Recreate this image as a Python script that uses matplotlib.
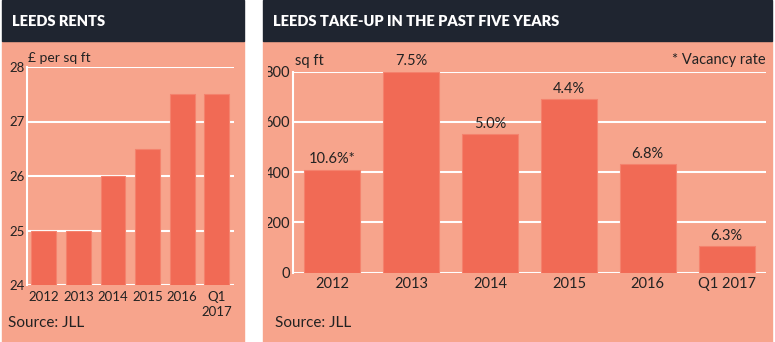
import matplotlib
matplotlib.use("Agg")
import matplotlib.pyplot as plt
from matplotlib.patches import Rectangle

plt.rcParams['font.family'] = ['Lato', 'DejaVu Sans']

W, H = 775, 342

# data
rent_years = ['2012', '2013', '2014', '2015', '2016', 'Q1\n2017']
rents = [25, 25, 26, 26.5, 27.5, 27.5]

takeup_years = ['2012', '2013', '2014', '2015', '2016', 'Q1 2017']
takeup = [410, 800, 550, 690, 432, 106]
vacancy = ['10.6%*', '7.5%', '5.0%', '4.4%', '6.8%', '6.3%']

BG = '#f7a48c'
BAR = '#f16a55'
HEAD = '#1f2530'
INK = '#222222'


def fx(x):
    return x / W


def fy(y):
    return 1 - y / H


def px_axes(l, t, r, b):
    return [fx(l), fy(b), (r - l) / W, (b - t) / H]


fig = plt.figure(figsize=(W / 100, H / 100), dpi=100)
fig.patch.set_facecolor('white')

# panels
for x0, x1, title in [(2, 244, 'LEEDS RENTS'),
                      (263, 772, 'LEEDS TAKE-UP IN THE PAST FIVE YEARS')]:
    fig.patches.append(Rectangle((fx(x0), 0), fx(x1 - x0), fy(41),
                                 transform=fig.transFigure, color=BG, zorder=-10))
    fig.patches.append(Rectangle((fx(x0), fy(41)), fx(x1 - x0), 41 / H,
                                 transform=fig.transFigure, color=HEAD, zorder=-10))
    fig.text(fx(x0 + 10), fy(21), title, color='white', fontsize=10.5,
             fontweight='heavy', va='center', ha='left')


def style(ax):
    ax.set_facecolor(BG)
    for s in ['top', 'right', 'bottom']:
        ax.spines[s].set_visible(False)
    ax.spines['left'].set_color('white')
    ax.spines['left'].set_linewidth(1.5)
    ax.grid(axis='y', color='white', linewidth=1.5)
    ax.set_axisbelow(True)
    ax.set_xlim(-0.5, len(rents) - 0.5)


# left chart
ax1 = fig.add_axes(px_axes(26.5, 67, 234, 285))
style(ax1)
ax1.bar(range(len(rents)), rents, width=0.72, color=BAR, edgecolor='#f4826d', linewidth=0.8)
ax1.set_ylim(24, 28)
ax1.set_yticks([24, 25, 26, 27, 28])
ax1.set_xticks(range(len(rents)))
ax1.set_xticklabels(rent_years, linespacing=1.3)
ax1.tick_params(axis='y', length=0, pad=1.5, labelsize=9.5, labelcolor=INK)
ax1.tick_params(axis='x', length=0, pad=4, labelsize=9.5, labelcolor=INK)
fig.text(fx(28), fy(58), '£ per sq ft', fontsize=10, color=INK, va='center')
fig.text(fx(8), fy(323), 'Source: JLL', fontsize=11, color=INK, va='center')

# right chart
ax2 = fig.add_axes(px_axes(293, 71.5, 766, 272.7))
style(ax2)
bars = ax2.bar(range(len(takeup)), takeup, width=0.71, color=BAR, edgecolor='#f4826d', linewidth=0.8)
ax2.set_ylim(0, 800)
ax2.set_yticks([0, 200, 400, 600, 800])
ax2.set_xticks(range(len(takeup)))
ax2.set_xticklabels(takeup_years)
ax2.tick_params(axis='y', length=0, pad=2, labelsize=10.5, labelcolor=INK)
ax2.tick_params(axis='x', length=0, pad=3, labelsize=10.5, labelcolor=INK)
for b, lab in zip(bars, vacancy):
    ax2.annotate(lab, (b.get_x() + b.get_width() / 2, b.get_height()),
                 xytext=(0, 2.5), textcoords='offset points', ha='center',
                 va='bottom', fontsize=10.5, color=INK, annotation_clip=False)
fig.text(fx(295), fy(61), 'sq ft', fontsize=10.5, color=INK, va='center')
fig.text(fx(766), fy(60), '* Vacancy rate', fontsize=10.5, color=INK,
         va='center', ha='right')
fig.text(fx(275), fy(323), 'Source: JLL', fontsize=11, color=INK, va='center')

# the y labels of the right chart are cut at the panel's inner edge
clip = Rectangle((fx(268.3), 0), 1, 1, transform=fig.transFigure)
for lab in ax2.get_yticklabels():
    lab.set_clip_path(clip)
    lab.set_clip_on(True)

fig.savefig('out.png', dpi=100)
